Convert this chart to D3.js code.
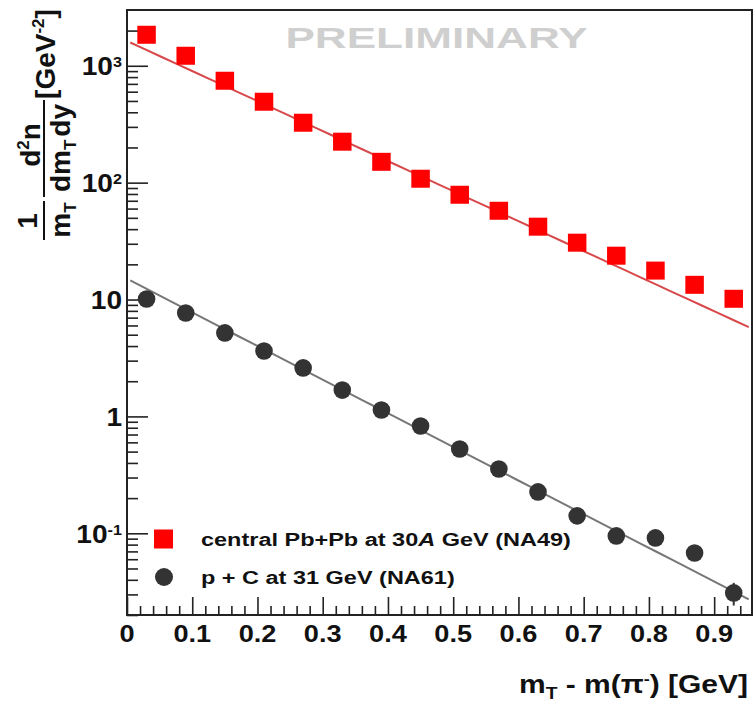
<!DOCTYPE html>
<html>
<head>
<meta charset="utf-8">
<script src="https://cdn.jsdelivr.net/npm/d3@7"></script>
<style>
  body { margin: 0; background: #fff; }
  svg { display: block; }
  text { font-family: "Liberation Sans", Arial, Helvetica, sans-serif; font-weight: bold; }
</style>
</head>
<body>
<svg id="chart" width="753" height="701"></svg>
<script>
// m_T - m(pi-) bin centres [GeV]
const mtBins = [0.03, 0.09, 0.15, 0.21, 0.27, 0.33, 0.39, 0.45, 0.51, 0.57, 0.63, 0.69, 0.75, 0.81, 0.87, 0.93];
// central Pb+Pb at 30A GeV (NA49)
const pbpbYield = [1833, 1212, 741, 490, 324, 223, 150, 107.5, 78.4, 57.2, 41.8, 30.5, 23.6, 17.6, 13.3, 10.1];
// p + C at 31 GeV (NA61)
const pcYield = [10.1, 7.68, 5.18, 3.63, 2.60, 1.68, 1.136, 0.829, 0.527, 0.355, 0.226, 0.141, 0.095, 0.0913, 0.0679, 0.0309];
const pcErr   = [0.15, 0.12, 0.08, 0.06, 0.04, 0.03, 0.02, 0.015, 0.01, 0.008, 0.006, 0.004, 0.004, 0.006, 0.010, 0.0068];
// exponential fits A*exp(-(mT-m)/T), drawn over the fit range
const pbpbFit = { A: 1628, T: 0.1691 };
const pcFit   = { A: 15.06, T: 0.1509 };
const fitRange = [0.005, 0.953];
// axis ticks
const xMajor = [0, 0.1, 0.2, 0.3, 0.4, 0.5, 0.6, 0.7, 0.8, 0.9];
const xLabels = ["0", "0.1", "0.2", "0.3", "0.4", "0.5", "0.6", "0.7", "0.8", "0.9"];
const yMajor = [0.1, 1, 10, 100, 1000];
const yLabels = [["10", "-1"], ["1", ""], ["10", ""], ["10", "2"], ["10", "3"]];
const legendItems = ["central Pb+Pb at 30", "p + C at 31 GeV (NA61)"];

const svg = d3.select("#chart");
const L = 127, R = 752, T = 10, B = 615;

const x = d3.scaleLinear().domain([0, 0.958]).range([L, R]);
const y = d3.scaleLog().domain([0.02, 3000]).range([B, T]);

// minor ticks
const xMinor = d3.range(0, 0.958, 0.02).filter(v => Math.abs(v * 10 - Math.round(v * 10)) > 1e-6);
const yMinor = [];
for (let e = -2; e <= 3; e++) for (let m = 2; m <= 9; m++) {
  const v = m * Math.pow(10, e);
  if (v >= 0.02 && v < 3000) yMinor.push(v);
}

function axisStyle(g) {
  g.select(".domain").remove();
  g.selectAll("line").attr("stroke", "#222").attr("stroke-width", 1.6);
}

svg.append("g").attr("transform", `translate(0,${B})`)
  .call(d3.axisBottom(x).tickValues(xMajor).tickSize(-18).tickFormat(""))
  .call(axisStyle);
svg.append("g").attr("transform", `translate(0,${B})`)
  .call(d3.axisBottom(x).tickValues(xMinor).tickSize(-9).tickFormat(""))
  .call(axisStyle);
svg.append("g").attr("transform", `translate(${L},0)`)
  .call(d3.axisLeft(y).tickValues(yMajor).tickSize(-21).tickFormat(""))
  .call(axisStyle);
svg.append("g").attr("transform", `translate(${L},0)`)
  .call(d3.axisLeft(y).tickValues(yMinor).tickSize(-11).tickFormat(""))
  .call(axisStyle);

// x tick labels
svg.append("g").selectAll("text").data(xMajor).join("text")
  .attr("transform", d => `translate(${x(d)},642) scale(1.18,1)`)
  .attr("text-anchor", "middle")
  .attr("font-size", 23)
  .attr("fill", "#111")
  .text((d, i) => xLabels[i]);

// y tick labels (with exponents)
yMajor.forEach((v, i) => {
  const t = svg.append("text")
    .attr("transform", `translate(122,${y(v) + 9.5}) scale(1.08,1)`)
    .attr("text-anchor", "end")
    .attr("font-size", 26)
    .attr("fill", "#111");
  t.append("tspan").text(yLabels[i][0]);
  if (yLabels[i][1]) {
    t.append("tspan").attr("font-size", 15).attr("dy", -8).text(yLabels[i][1]);
  }
});

// frame
svg.append("rect")
  .attr("x", L).attr("y", T).attr("width", R - L).attr("height", B - T)
  .attr("fill", "none").attr("stroke", "#222").attr("stroke-width", 2);

// PRELIMINARY stamp
svg.append("text")
  .attr("transform", "translate(436.5,47.5) scale(1.47,1)")
  .attr("text-anchor", "middle")
  .attr("font-size", 30)
  .attr("fill", "#cfcfcf")
  .text("PRELIMINARY");

// fit lines
const fitX = d3.range(0, 41).map(i => fitRange[0] + (fitRange[1] - fitRange[0]) * i / 40);
const line = d3.line().x(d => x(d[0])).y(d => y(d[1]));
svg.append("path")
  .attr("d", line(fitX.map(v => [v, pbpbFit.A * Math.exp(-v / pbpbFit.T)])))
  .attr("fill", "none").attr("stroke", "#d8474a").attr("stroke-width", 2);
svg.append("path")
  .attr("d", line(fitX.map(v => [v, pcFit.A * Math.exp(-v / pcFit.T)])))
  .attr("fill", "none").attr("stroke", "#777").attr("stroke-width", 2);

// p + C error bars and markers
svg.append("g").selectAll("line").data(mtBins).join("line")
  .attr("x1", d => x(d)).attr("x2", d => x(d))
  .attr("y1", (d, i) => y(pcYield[i] + pcErr[i]))
  .attr("y2", (d, i) => y(Math.max(pcYield[i] - pcErr[i], 0.021)))
  .attr("stroke", "#333").attr("stroke-width", 2);
svg.append("g").selectAll("circle").data(mtBins).join("circle")
  .attr("cx", d => x(d)).attr("cy", (d, i) => y(pcYield[i]))
  .attr("r", 8.8).attr("fill", "#333");

// Pb+Pb markers
const sq = 18.5;
svg.append("g").selectAll("rect").data(mtBins).join("rect")
  .attr("x", d => x(d) - sq / 2).attr("y", (d, i) => y(pbpbYield[i]) - sq / 2)
  .attr("width", sq).attr("height", sq - 0.5).attr("fill", "#ff0000");

// legend
svg.append("rect").attr("x", 154).attr("y", 529.5).attr("width", 19).attr("height", 19).attr("fill", "#ff0000");
svg.append("circle").attr("cx", 164).attr("cy", 577).attr("r", 9).attr("fill", "#333");
const lg1 = svg.append("text")
  .attr("transform", "translate(201,546) scale(1.27,1)")
  .attr("font-size", 18.5).attr("fill", "#111");
lg1.append("tspan").text(legendItems[0]);
lg1.append("tspan").attr("font-style", "italic").text("A");
lg1.append("tspan").text(" GeV (NA49)");
svg.append("text")
  .attr("transform", "translate(201,584) scale(1.27,1)")
  .attr("font-size", 18.5).attr("fill", "#111")
  .text(legendItems[1]);

// x axis title
const xt = svg.append("text")
  .attr("transform", "translate(748,692.5) scale(1.2,1)")
  .attr("text-anchor", "end")
  .attr("font-size", 25).attr("fill", "#111");
xt.append("tspan").text("m");
xt.append("tspan").attr("font-size", 16).attr("dy", 6).text("T");
xt.append("tspan").attr("dy", -6).text(" - m(\u03C0");
xt.append("tspan").attr("font-size", 15).attr("dy", -9).text("-");
xt.append("tspan").attr("dy", 9).text(") [GeV]");

// y axis title: 1/m_T d^2n/(dm_T dy) [GeV^-2]
const yt = svg.append("g").attr("transform", "rotate(-90)").attr("fill", "#111");
const tx = (lx, ly) => yt.append("text").attr("x", lx).attr("y", ly).attr("text-anchor", "middle").attr("font-size", 28);
tx(-221, 37).text("1");
const mT = tx(-220, 70);
mT.append("tspan").text("m");
mT.append("tspan").attr("font-size", 17).attr("dy", 6).text("T");
const d2n = tx(-145, 40);
d2n.append("tspan").text("d");
d2n.append("tspan").attr("font-size", 17).attr("dy", -11).text("2");
d2n.append("tspan").attr("dy", 11).text("n");
const dmdy = tx(-148, 70);
dmdy.append("tspan").text("dm");
dmdy.append("tspan").attr("font-size", 17).attr("dy", 6).text("T");
dmdy.append("tspan").attr("dy", -6).attr("dx", 3).text("dy");
const gev = tx(-54, 55);
gev.append("tspan").text("[GeV");
gev.append("tspan").attr("font-size", 17).attr("dy", -11).text("-2");
gev.append("tspan").attr("dy", 11).text("]");
yt.append("line").attr("x1", -240).attr("x2", -201).attr("y1", 44).attr("y2", 44).attr("stroke", "#111").attr("stroke-width", 2);
yt.append("line").attr("x1", -197).attr("x2", -100).attr("y1", 44).attr("y2", 44).attr("stroke", "#111").attr("stroke-width", 2);
</script>
</body>
</html>
